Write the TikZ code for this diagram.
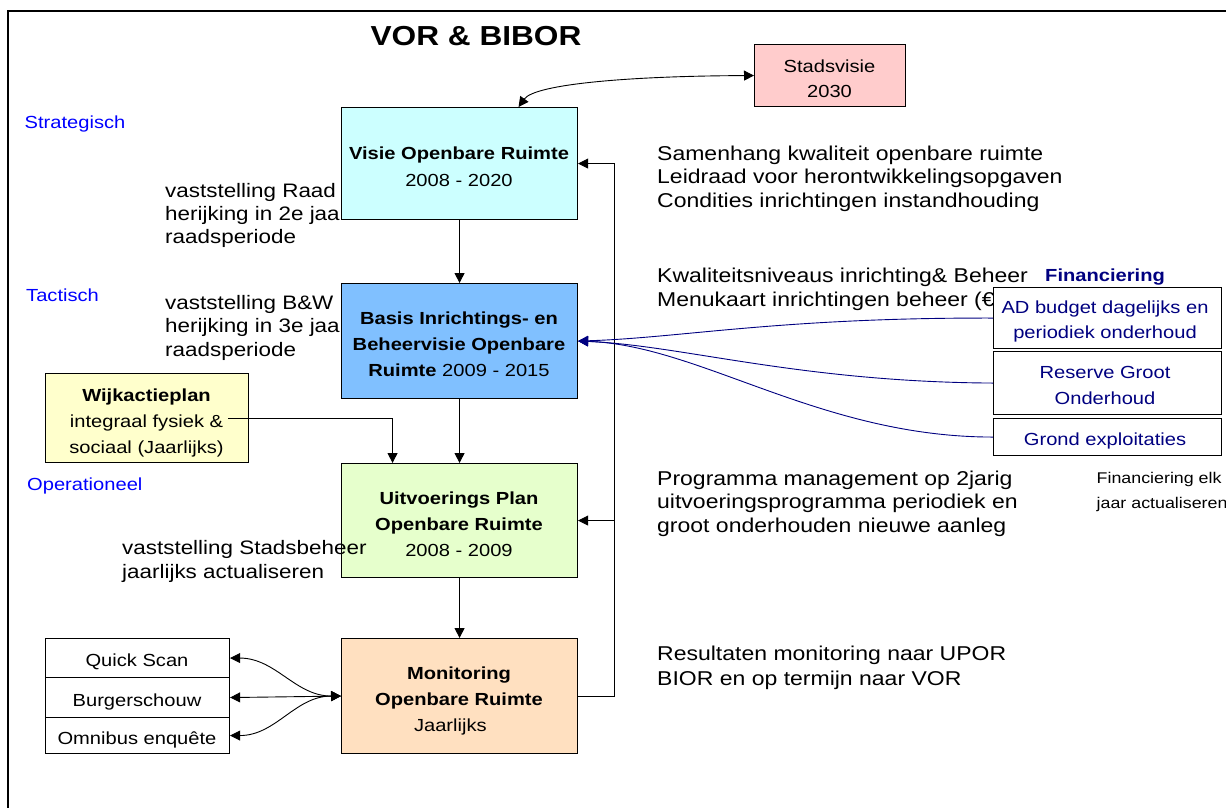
\documentclass[tikz,border=0pt]{standalone}
\usepackage{fontspec}
\setmainfont{Liberation Sans}
\usepackage{graphicx}
\usetikzlibrary{arrows.meta}

\definecolor{navyc}{HTML}{000080}
\definecolor{cyanfill}{HTML}{CCFFFF}
\definecolor{bluefill}{HTML}{80C0FF}
\definecolor{greenfill}{HTML}{E6FFCC}
\definecolor{peachfill}{HTML}{FFE0C0}
\definecolor{yellowfill}{HTML}{FFFFCC}
\definecolor{pinkfill}{HTML}{FFCCCC}
\definecolor{labelblue}{HTML}{0000FF}

\newcommand\hs[1]{\scalebox{1.15}[1]{#1}}
\newcommand\tb[2][l]{\hs{\begin{tabular}[t]{@{}#1@{}}#2\end{tabular}}}
\newcommand\fs[2]{\fontsize{#1}{#2}\selectfont}

\begin{document}
\begin{tikzpicture}[x=1pt,y=-1pt,
  box/.style={draw=black, line width=1.1pt, inner sep=0pt, anchor=north west},
  txt/.style={inner sep=0pt, anchor=base west},
  ctxt/.style={inner sep=0pt, anchor=base},
  lvl/.style={inner sep=0pt, anchor=base west, text=labelblue, font=\fs{17.5}{20}},
  tip/.tip={Triangle[length=10pt,width=10pt]},
  arr/.style={-tip, line width=0.9pt},
  darr/.style={tip-tip, line width=0.9pt},
  narr/.style={-tip, line width=0.9pt, draw=navyc}
]
\useasboundingbox (0,0) rectangle (1226,807);
\clip (0,0) rectangle (1226,807);

% frame
\draw[line width=2.5pt] (1230,11) -- (8,11) -- (8,812);

% title
\node[ctxt, font=\fs{27.5}{30}\bfseries] (title) at (476,45) {\hs{VOR \& BIBOR}};

% level labels
\node[lvl] (strat) at (24.5,128) {\hs{Strategisch}};
\node[lvl] (tact) at (26,301) {\hs{Tactisch}};
\node[lvl] (oper) at (27,490) {\hs{Operationeel}};

% texts behind boxes
\node[txt, font=\fs{19.5}{23}] (raad) at (165,197) {\tb{vaststelling Raad\\herijking in 2e jaar\\raadsperiode}};
\node[txt, font=\fs{19.5}{23.5}] (bw) at (165,309) {\tb{vaststelling B\&W\\herijking in 3e jaar\\raadsperiode}};
\node[txt, font=\fs{20}{23.5}] (samen) at (657,160) {\tb{Samenhang kwaliteit openbare ruimte\\Leidraad voor herontwikkelingsopgaven\\Condities inrichtingen instandhouding}};
\node[txt, font=\fs{20}{24}] (kwal) at (657,282) {\tb{Kwaliteitsniveaus inrichting\& Beheer\\Menukaart inrichtingen beheer (€)}};
\node[txt, font=\fs{20}{23.5}] (prog) at (657,485.3) {\tb{Programma management op 2jarig\\uitvoeringsprogramma periodiek en\\groot onderhouden nieuwe aanleg}};
\node[txt, font=\fs{20}{25}] (result) at (657,660.3) {\tb{Resultaten monitoring naar UPOR\\BIOR en op termijn naar VOR}};

% boxes
\node[box, fill=pinkfill, minimum width=151pt, minimum height=62pt] (stad) at (754,44) {};
\node[box, fill=cyanfill, minimum width=236pt, minimum height=112pt] (visie) at (341,107) {};
\node[box, fill=bluefill, minimum width=236pt, minimum height=115pt] (basis) at (341,283) {};
\node[box, fill=greenfill, minimum width=236pt, minimum height=114pt] (uitv) at (341,463) {};
\node[box, fill=peachfill, minimum width=236pt, minimum height=115pt] (mon) at (341,638) {};
\node[box, fill=yellowfill, minimum width=203pt, minimum height=89pt] (wijk) at (45,373) {};
\node[box, fill=white, minimum width=184pt, minimum height=39pt] (qs) at (45,638) {};
\node[box, fill=white, minimum width=184pt, minimum height=40pt] (burg) at (45,677) {};
\node[box, fill=white, minimum width=184pt, minimum height=36pt] (omni) at (45,717) {};
\node[box, fill=white, minimum width=228pt, minimum height=61pt] (ad) at (993,287) {};
\node[box, fill=white, minimum width=228pt, minimum height=63pt] (res) at (993,351) {};
\node[box, fill=white, minimum width=228pt, minimum height=37pt] (grond) at (993,418) {};

% box texts
\node[ctxt, font=\fs{17.5}{25}] (stadt) at (829.5,72.7) {\tb[c]{Stadsvisie\\2030}};
\node[ctxt, font=\fs{17.5}{27.4}] (visiet) at (459,159.3) {\tb[c]{\textbf{Visie Openbare Ruimte}\\2008 - 2020}};
\node[ctxt, font=\fs{17.5}{26}] (basist) at (459,324) {\tb[c]{\textbf{Basis Inrichtings- en}\\\textbf{Beheervisie Openbare}\\\textbf{Ruimte} 2009 - 2015}};
\node[ctxt, font=\fs{17.5}{26.3}] (uitvt) at (459,504) {\tb[c]{\textbf{Uitvoerings Plan}\\\textbf{Openbare Ruimte}\\2008 - 2009}};
\node[ctxt, font=\fs{17.5}{26.2}] (mont) at (459,679.3) {\tb[c]{\textbf{Monitoring}\\\textbf{Openbare Ruimte}\\Jaarlijks\hspace*{15pt}}};
\node[ctxt, font=\fs{17.5}{25.8}] (wijkt) at (146.5,401.7) {\tb[c]{\textbf{Wijkactieplan}\\integraal fysiek \&\\sociaal (Jaarlijks)}};
\node[ctxt, font=\fs{17.5}{20}] (qst) at (137,666.7) {\hs{Quick Scan}};
\node[ctxt, font=\fs{17.5}{20}] (burgt) at (137,706) {\hs{Burgerschouw}};
\node[ctxt, font=\fs{17.5}{20}] (omnit) at (137,744) {\hs{Omnibus enquête}};
\node[ctxt, font=\fs{17.5}{25}, text=navyc] (adt) at (1105,313.3) {\tb[c]{AD budget dagelijks en\\periodiek onderhoud}};
\node[ctxt, font=\fs{17.5}{25.7}, text=navyc] (rest) at (1105,378.3) {\tb[c]{Reserve Groot\\Onderhoud}};
\node[ctxt, font=\fs{17.5}{20}, text=navyc] (grondt) at (1105,445) {\hs{Grond exploitaties}};
\node[txt, font=\fs{17.5}{20}\bfseries, text=navyc] (fin) at (1045,281.7) {\hs{Financiering}};
\node[txt, font=\fs{15.5}{25}] (finelk) at (1096.5,483) {\tb{Financiering elk\\jaar actualiseren}};

% text over box
\node[txt, font=\fs{19.5}{23.5}] (stadsb) at (122,554.7) {\tb{vaststelling Stadsbeheer\\jaarlijks actualiseren}};

% connectors
\draw[darr] ([xshift=59pt]visie.north) .. controls (535,84) and (630,76) .. (stad.west);
\draw[arr] (visie.south) -- (basis.north);
\draw[arr] (basis.south) -- (uitv.north);
\draw[arr] (uitv.south) -- (mon.north);
\coordinate (wstart) at (228,418);
\draw[arr] (wstart) -| ([xshift=-67pt]uitv.north);
\coordinate (bus) at (614,0);
\draw[arr] (mon.east) -- (mon.east -| bus) -- (visie.east -| bus) -- (visie.east);
\draw[arr] (uitv.east -| bus) -- (uitv.east);
\draw[narr] (ad.west) .. controls (780,317.5) and (680,338) .. (basis.east);
\draw[narr] (res.west) .. controls (800,382) and (680,345) .. (basis.east);
\draw[narr] (grond.west) .. controls (820,437) and (700,345) .. (basis.east);
\draw[darr] (qs.east) to[out=0,in=180] (mon.west);
\draw[darr] (burg.east) -- (mon.west);
\draw[darr] (omni.east) to[out=0,in=180] (mon.west);
\end{tikzpicture}
\end{document}
